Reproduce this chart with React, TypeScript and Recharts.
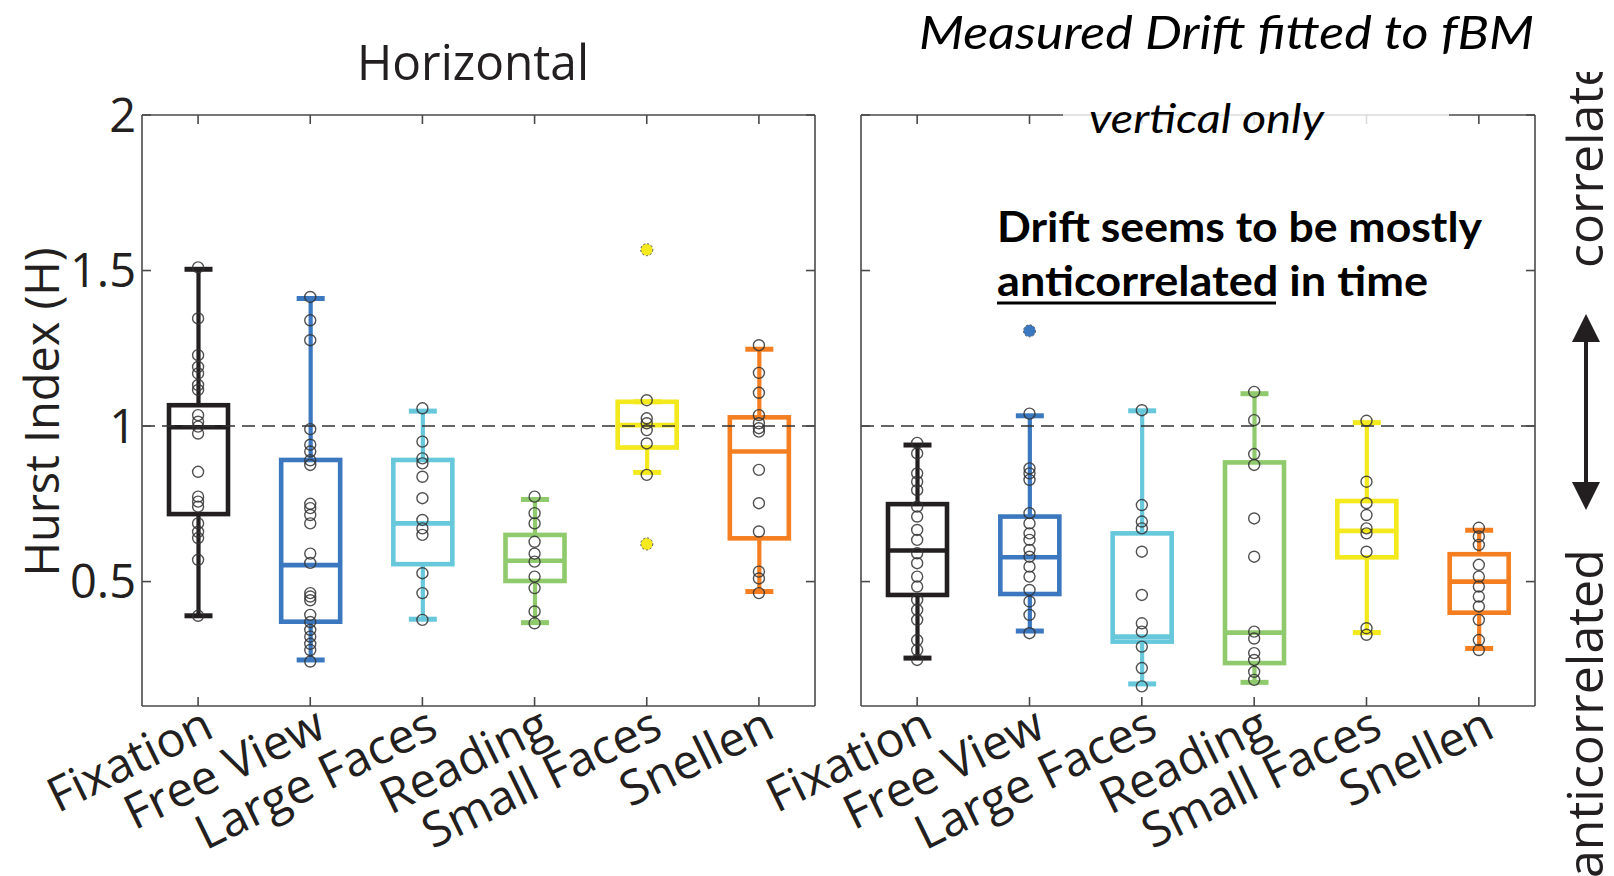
import React from "react"
import { ComposedChart, Bar, Scatter, XAxis, YAxis, ReferenceLine } from "recharts"

const categories = ["Fixation", "Free View", "Large Faces", "Reading", "Small Faces", "Snellen"]
const yTicks = [0.5, 1, 1.5, 2]

// Horizontal panel
const horizLow = [0.39, 0.248, 0.379, 0.368, 0.851, 0.468]
const horizQ1 = [0.717, 0.371, 0.556, 0.502, 0.931, 0.639]
const horizMedian = [0.996, 0.553, 0.687, 0.567, 1.003, 0.918]
const horizQ3 = [1.067, 0.891, 0.891, 0.65, 1.078, 1.028]
const horizHigh = [1.504, 1.41, 1.048, 0.764, 1.078, 1.247]
const horizPoints = [
  [1.51, 1.346, 1.228, 1.19, 1.169, 1.132, 1.116, 1.035, 1.014, 0.998, 0.976, 0.853, 0.773, 0.757, 0.741, 0.687, 0.66, 0.64, 0.57, 0.39],
  [1.415, 1.34, 1.276, 0.99, 0.94, 0.918, 0.89, 0.875, 0.75, 0.736, 0.714, 0.687, 0.59, 0.56, 0.463, 0.452, 0.44, 0.393, 0.37, 0.345, 0.323, 0.3, 0.28, 0.243],
  [1.057, 0.95, 0.896, 0.88, 0.837, 0.768, 0.698, 0.671, 0.65, 0.527, 0.463, 0.377],
  [0.773, 0.72, 0.687, 0.628, 0.59, 0.564, 0.516, 0.479, 0.404, 0.366],
  [1.083, 1.025, 1.009, 0.987, 0.944, 0.843],
  [1.26, 1.171, 1.107, 1.035, 1.009, 0.993, 0.982, 0.859, 0.752, 0.661, 0.532, 0.51, 0.463],
]
const horizOutliers = [[], [], [], [], [1.567, 0.621], []]

// Vertical panel
const vertLow = [0.254, 0.341, 0.171, 0.176, 0.336, 0.285]
const vertQ1 = [0.457, 0.46, 0.307, 0.238, 0.578, 0.4]
const vertMedian = [0.6, 0.578, 0.323, 0.336, 0.663, 0.5]
const vertQ3 = [0.749, 0.709, 0.655, 0.883, 0.759, 0.588]
const vertHigh = [0.939, 1.033, 1.049, 1.104, 1.011, 0.665]
const vertPoints = [
  [0.946, 0.912, 0.848, 0.821, 0.794, 0.741, 0.709, 0.666, 0.634, 0.591, 0.559, 0.516, 0.484, 0.441, 0.409, 0.377, 0.312, 0.28, 0.248],
  [1.04, 0.864, 0.848, 0.827, 0.72, 0.687, 0.655, 0.634, 0.602, 0.58, 0.548, 0.516, 0.473, 0.436, 0.393, 0.334],
  [1.051, 0.746, 0.693, 0.671, 0.596, 0.457, 0.366, 0.339, 0.291, 0.222, 0.163],
  [1.11, 1.019, 0.91, 0.875, 0.703, 0.58, 0.339, 0.317, 0.27, 0.248, 0.21, 0.184],
  [1.017, 0.821, 0.752, 0.714, 0.671, 0.655, 0.596, 0.35, 0.329],
  [0.673, 0.645, 0.618, 0.554, 0.516, 0.484, 0.452, 0.42, 0.377, 0.312, 0.28],
]
const vertOutliers = [[], [1.306], [], [], [], []]

const COLORS = ["#231f20", "#3b78bf", "#67c8dc", "#8fca6c", "#f3e91c", "#f47e20"]
const FONT = "'Open Sans', 'Noto Sans', sans-serif"
const CAL = "Lato, 'Open Sans', sans-serif"
const INK = "#231f20"
const PLOT_TOP = 115
const PLOT_BOTTOM = 706
const axisStroke = { stroke: "#4a4a4a", strokeWidth: 1.6 }

const BoxShape = (props: any) => {
  const { x, y, width, height, payload } = props
  if (height == null || !payload) return null
  const per = height / (payload.q3 - payload.q1)
  const py = (v: number) => y + (payload.q3 - v) * per
  const cx = x + width / 2
  const cap = 14
  const c = payload.color
  return (
    <g>
      <line x1={cx} x2={cx} y1={py(payload.hi)} y2={py(payload.q3)} stroke={c} strokeWidth={4.2} />
      <line x1={cx} x2={cx} y1={py(payload.q1)} y2={py(payload.lo)} stroke={c} strokeWidth={4.2} />
      <line x1={cx - cap} x2={cx + cap} y1={py(payload.hi)} y2={py(payload.hi)} stroke={c} strokeWidth={5} />
      <line x1={cx - cap} x2={cx + cap} y1={py(payload.lo)} y2={py(payload.lo)} stroke={c} strokeWidth={5} />
      <rect x={x} y={y} width={width} height={height} fill="none" stroke={c} strokeWidth={4.6} />
      <line x1={x} x2={x + width} y1={py(payload.med)} y2={py(payload.med)} stroke={c} strokeWidth={4.6} />
    </g>
  )
}

const OpenDot = (props: any) => (
  <circle cx={props.cx} cy={props.cy} r={5.5} fill="none" stroke="#333" strokeOpacity={0.85} strokeWidth={1.4} />
)

const FilledDot = (props: any) => (
  <circle cx={props.cx} cy={props.cy} r={6} fill={props.payload.color} stroke="#555" strokeWidth={1} strokeDasharray="2 2" />
)

const XTick = (props: any) => {
  const ax = props.x + 18
  const ay = PLOT_BOTTOM + 30
  return (
    <text x={ax} y={ay} transform={`rotate(-26 ${ax} ${ay})`} textAnchor="end" fontSize={48} fontFamily={FONT} fill={INK}>
      {props.payload.value}
    </text>
  )
}

const noTick = () => <g />

type PanelProps = {
  low: number[]
  q1: number[]
  median: number[]
  q3: number[]
  high: number[]
  points: number[][]
  outliers: number[][]
  left: number
  width: number
  marginLeft: number
  labels: boolean
}

function BoxPanel(p: PanelProps) {
  const rows = categories.map((name, i) => ({
    name,
    box: [p.q1[i], p.q3[i]],
    lo: p.low[i],
    q1: p.q1[i],
    med: p.median[i],
    q3: p.q3[i],
    hi: p.high[i],
    color: COLORS[i],
  }))
  const dots = categories.flatMap((name, i) => p.points[i].map((v) => ({ name, v })))
  const outs = categories.flatMap((name, i) => p.outliers[i].map((v) => ({ name, v, color: COLORS[i] })))

  const YTick = (props: any) => (
    <text x={p.marginLeft - 6} y={props.y} dy="0.36em" textAnchor="end" fontSize={47} fontFamily={FONT} fill={INK}>
      {props.payload.value}
    </text>
  )

  return (
    <div style={{ position: "absolute", left: p.left, top: 0 }}>
      <ComposedChart
        width={p.width}
        height={876}
        data={rows}
        margin={{ top: PLOT_TOP - 1, right: 14, bottom: 876 - PLOT_BOTTOM - 1, left: p.marginLeft - 1 }}
      >
        <XAxis dataKey="name" type="category" allowDuplicatedCategory={false} interval={0} height={1}
          tickSize={-9} tickMargin={0} axisLine={axisStroke} tickLine={axisStroke} tick={<XTick />} />
        <XAxis xAxisId="top" orientation="top" dataKey="name" type="category" allowDuplicatedCategory={false}
          interval={0} height={1} tickSize={-9} axisLine={axisStroke} tickLine={axisStroke} tick={noTick} />
        <YAxis type="number" domain={[0.1, 2]} ticks={yTicks} allowDataOverflow width={1} tickSize={-9}
          tickMargin={0} axisLine={axisStroke} tickLine={axisStroke} tick={p.labels ? <YTick /> : noTick} />
        <YAxis yAxisId="right" orientation="right" type="number" domain={[0.1, 2]} ticks={yTicks} allowDataOverflow
          width={1} tickSize={-9} axisLine={axisStroke} tickLine={axisStroke} tick={noTick} />
        <ReferenceLine y={1} stroke="#333" strokeWidth={1.6} strokeDasharray="13 7" />
        <Bar dataKey="box" barSize={59} shape={BoxShape} isAnimationActive={false} />
        <Scatter data={dots} dataKey="v" shape={OpenDot} isAnimationActive={false} />
        <Scatter data={outs} dataKey="v" shape={FilledDot} isAnimationActive={false} />
      </ComposedChart>
    </div>
  )
}

export default function App() {
  return (
    <div style={{ position: "absolute", left: 0, top: 0, width: 1614, height: 876, background: "#fff", overflow: "hidden" }}>
      <BoxPanel low={horizLow} q1={horizQ1} median={horizMedian} q3={horizQ3} high={horizHigh}
        points={horizPoints} outliers={horizOutliers} left={0} width={830} marginLeft={142} labels />
      <BoxPanel low={vertLow} q1={vertQ1} median={vertMedian} q3={vertQ3} high={vertHigh}
        points={vertPoints} outliers={vertOutliers} left={740} width={810} marginLeft={121} labels={false} />
      <svg width={1614} height={876} style={{ position: "absolute", left: 0, top: 0, pointerEvents: "none" }}>
        <defs>
          <clipPath id="clipTop">
            <rect x={1500} y={72} width={114} height={300} />
          </clipPath>
        </defs>
        <text x={473} y={80} textAnchor="middle" fontSize={49} fontFamily={FONT} fill={INK} textLength={232} lengthAdjust="spacingAndGlyphs">
          Horizontal
        </text>
        <text x={59} y={412} transform="rotate(-90 59 412)" textAnchor="middle" fontSize={48} fontFamily={FONT} fill={INK}
          textLength={329} lengthAdjust="spacingAndGlyphs">
          Hurst Index (H)
        </text>
        <text x={919} y={49} fontSize={46} fontStyle="italic" fontFamily={CAL} fill="#000" textLength={615} lengthAdjust="spacingAndGlyphs">
          Measured Drift fitted to fBM
        </text>
        <rect x={1063} y={106} width={386} height={38} fill="#fff" fillOpacity={0.8} />
        <text x={1089} y={133} fontSize={40} fontStyle="italic" fontFamily={CAL} fill="#000" textLength={235} lengthAdjust="spacingAndGlyphs">
          vertical only
        </text>
        <text x={997} y={242} fontSize={42} fontWeight="bold" fontFamily={CAL} fill="#000" textLength={485} lengthAdjust="spacingAndGlyphs">
          Drift seems to be mostly
        </text>
        <text x={997} y={296} fontSize={42} fontWeight="bold" fontFamily={CAL} fill="#000" textLength={431} lengthAdjust="spacingAndGlyphs">
          anticorrelated in time
        </text>
        <line x1={997} x2={1276} y1={303} y2={303} stroke="#000" strokeWidth={3} />
        <g clipPath="url(#clipTop)">
          <text x={1603} y={268} transform="rotate(-90 1603 268)" fontSize={50} fontFamily={FONT} fill={INK}>correlated</text>
        </g>
        <text x={1603} y={878} transform="rotate(-90 1603 878)" fontSize={50} fontFamily={FONT} fill={INK}>anticorrelated</text>
        <line x1={1586} x2={1586} y1={336} y2={488} stroke={INK} strokeWidth={4} />
        <polygon points="1586,314 1572,342 1600,342" fill={INK} />
        <polygon points="1586,510 1572,482 1600,482" fill={INK} />
      </svg>
    </div>
  )
}
